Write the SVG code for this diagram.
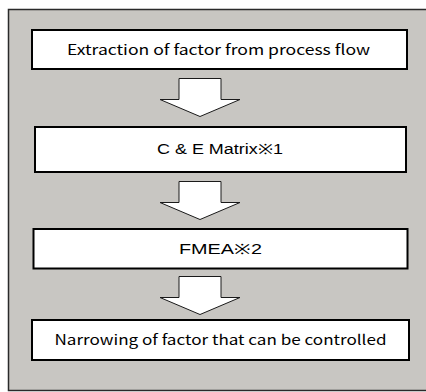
<svg xmlns="http://www.w3.org/2000/svg" width="426" height="392" viewBox="0 0 426 392">
  <style>
    .panel { fill: #c8c6c2; stroke: #2a2a2a; stroke-width: 1.5; }
    .box { fill: #ffffff; stroke: #000000; stroke-width: 2; }
    .arrow { fill: #ffffff; stroke: #1a1a1a; stroke-width: 1; stroke-linejoin: miter; }
    .label { font-family: "Noto Sans CJK JP", "Liberation Sans", sans-serif; font-size: 14px; fill: #000; }
    .sans { font-family: "Liberation Sans", Arial, sans-serif; font-size: 14px; fill: #000; }
  </style>
  <defs>
    <!-- block arrow pointing down, origin at shaft top centre -->
    <path id="down" d="M -21 0 H 21 V 21 H 40 L 0 38 L -40 21 H -21 Z"/>
  </defs>

  <rect class="panel" x="8.5" y="9.5" width="430" height="381"/>

  <g id="connectors">
    <use href="#down" class="arrow" x="200" y="78.5"/>
    <use href="#down" class="arrow" x="200" y="181.5"/>
    <use href="#down" class="arrow" x="200" y="276.5"/>
  </g>

  <g id="step-extraction">
    <rect class="box" x="32" y="30" width="375" height="39"/>
    <text class="label" x="67" y="55" textLength="303" lengthAdjust="spacingAndGlyphs">Extraction of factor from process flow</text>
  </g>

  <g id="step-ce-matrix">
    <rect class="box" x="35" y="127" width="371" height="45"/>
    <text class="sans" x="157" y="153.5" textLength="126" lengthAdjust="spacingAndGlyphs">C &amp; E Matrix※1</text>
  </g>

  <g id="step-fmea">
    <rect class="box" x="33.5" y="229" width="374" height="39.5"/>
    <text class="sans" x="179" y="254" textLength="83" lengthAdjust="spacingAndGlyphs">FMEA※2</text>
  </g>

  <g id="step-narrowing">
    <rect class="box" x="32" y="320" width="377" height="40"/>
    <text class="label" x="54.5" y="345" textLength="332" lengthAdjust="spacingAndGlyphs">Narrowing of factor that can be controlled</text>
  </g>
</svg>
